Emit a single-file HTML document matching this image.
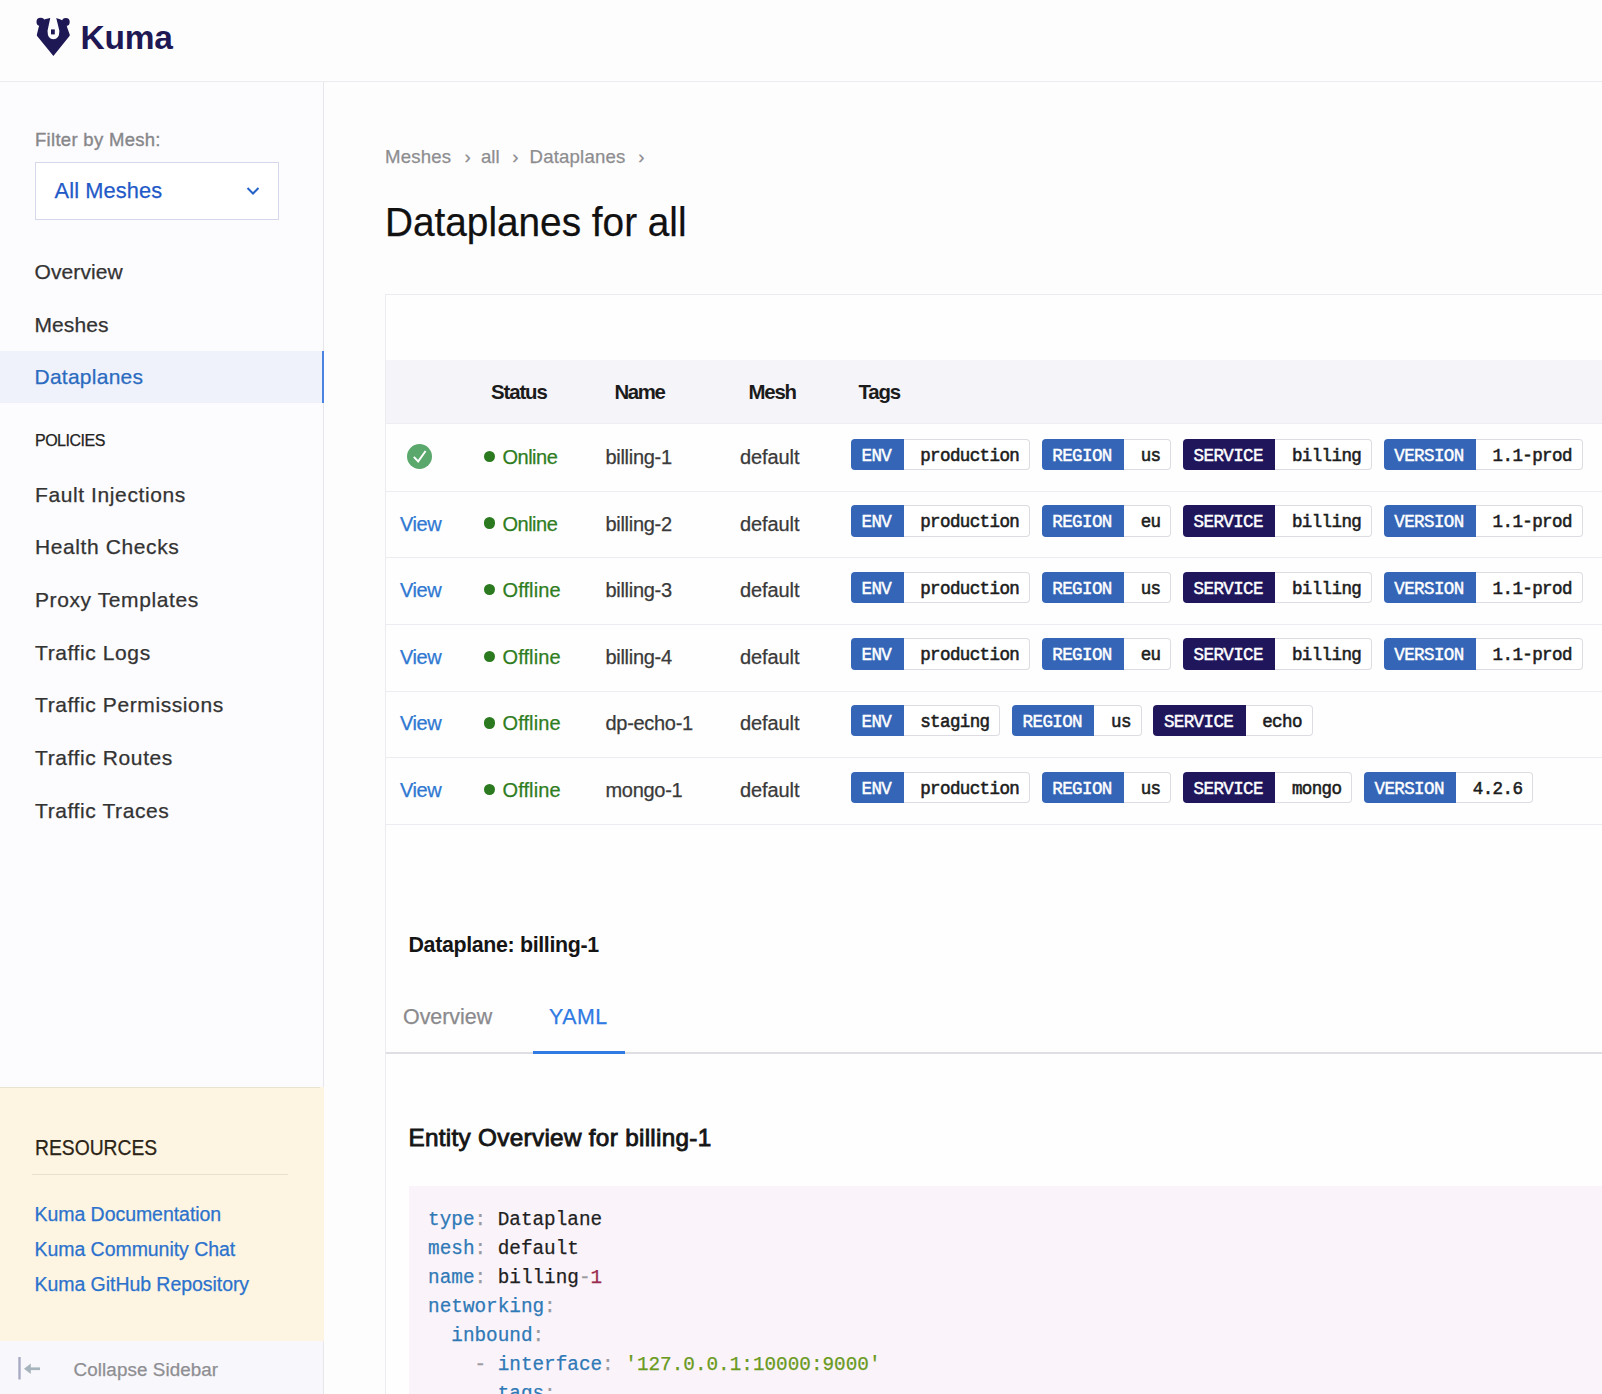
<!DOCTYPE html>
<html><head><meta charset="utf-8"><title>Kuma - Dataplanes</title>
<style>
html,body{margin:0;padding:0;}
body{width:1602px;height:1394px;overflow:hidden;position:relative;background:#fefdfe;font-family:"Liberation Sans", sans-serif;}
.r{position:absolute;}
.t{position:absolute;white-space:nowrap;}
.S{font-family:"Liberation Sans", sans-serif;}
.M{font-family:"Liberation Mono", monospace;}
.tag{position:absolute;height:31.4px;display:flex;font-family:"Liberation Mono", monospace;font-size:17.5px;letter-spacing:-0.6px;line-height:35.4px;}
.tag .k{display:block;height:31.4px;color:#fff;font-weight:400;-webkit-text-stroke:0.45px #fff;border-radius:4px 0 0 4px;box-sizing:border-box;padding-left:10.5px;}
.tag .v{display:block;height:31.4px;background:#fff;color:#1c1c1c;font-weight:400;-webkit-text-stroke:0.55px #1c1c1c;border:1px solid #dcdce2;border-left:none;border-radius:0 4px 4px 0;box-sizing:border-box;padding-left:16.5px;line-height:33.4px;}
</style></head>
<body>
<div class="r" style="left:0px;top:0px;width:1602px;height:82px;background:#fefdfe;"></div>
<div class="r" style="left:0px;top:81px;width:1602px;height:1px;background:#ecebf0;"></div>
<div class="r" style="left:0px;top:82px;width:323px;height:1312px;background:#fcfbfd;"></div>
<div class="r" style="left:323px;top:82px;width:1px;height:1005px;background:#e7e6ec;"></div>
<div class="r" style="left:323px;top:1341px;width:1px;height:53px;background:#e7e6ec;"></div>
<svg class="r" style="left:36px;top:17px" width="35" height="41" viewBox="0 0 35 41">
<circle cx="4.6" cy="4.9" r="4.1" fill="#1e1854"/>
<circle cx="29.8" cy="4.9" r="3.9" fill="#1e1854"/>
<path d="M2.6 10.5 L0.9 17.4 L0.9 18.8 L17.4 39.1 L33.7 18.8 L33.7 17.6 L31.2 10.5 L29.7 5 L24 2.3 L20 1 L14 1 L8.8 2.3 L4.6 5 Z" fill="#1e1854"/>
<path d="M14.4 -1 L19.9 -1 L20.3 1.2 L23.3 13.4 Q23.7 22.2 17.4 22.2 Q11.2 22.2 11.6 13.4 L14.2 1.2 Z" fill="#fefdfe"/>
<rect x="15" y="12.4" width="3.8" height="5" fill="#1e1854"/>
</svg>
<div class="t S" style="left:80.5px;top:20.64px;font-size:33.5px;line-height:33.5px;color:#1e1854;font-weight:700;letter-spacing:-0.2px;">Kuma</div>
<div class="t S" style="left:35.0px;top:130.54px;font-size:18.5px;line-height:18.5px;color:#87878a;letter-spacing:0.3px;-webkit-text-stroke:0.35px #87878a;">Filter by Mesh:</div>
<div class="r" style="left:35px;top:162px;width:244px;height:58px;background:#fff;border:1px solid #d5d8ea;box-sizing:border-box;"></div>
<div class="t S" style="left:54.6px;top:180.15px;font-size:21.8px;line-height:21.8px;color:#1f5ac8;-webkit-text-stroke-width:0.25px;letter-spacing:0.1px;">All Meshes</div>
<svg class="r" style="left:246px;top:186px" width="14" height="10" viewBox="0 0 14 10"><path d="M1.5 2 L7 7.5 L12.5 2" fill="none" stroke="#2563c8" stroke-width="2"/></svg>
<div class="t S" style="left:34.5px;top:260.82px;font-size:21px;line-height:21px;color:#333333;-webkit-text-stroke-width:0.25px;letter-spacing:0.1px;">Overview</div>
<div class="t S" style="left:34.5px;top:313.62px;font-size:21px;line-height:21px;color:#333333;-webkit-text-stroke-width:0.25px;letter-spacing:0.1px;">Meshes</div>
<div class="r" style="left:0px;top:351px;width:323px;height:52px;background:#eff2fb;"></div>
<div class="r" style="left:322.3px;top:351px;width:1.7px;height:52px;background:#4a84e0;"></div>
<div class="t S" style="left:34.5px;top:366.02px;font-size:21px;line-height:21px;color:#2a6bc0;-webkit-text-stroke-width:0.25px;letter-spacing:0.25px;">Dataplanes</div>
<div class="t S" style="left:35.0px;top:433.36px;font-size:16px;line-height:16px;color:#222222;-webkit-text-stroke-width:0.25px;letter-spacing:-0.5px;">POLICIES</div>
<div class="t S" style="left:35.0px;top:483.72px;font-size:21px;line-height:21px;color:#333333;-webkit-text-stroke-width:0.25px;letter-spacing:0.6px;">Fault Injections</div>
<div class="t S" style="left:35.0px;top:536.39px;font-size:21px;line-height:21px;color:#333333;-webkit-text-stroke-width:0.25px;letter-spacing:0.6px;">Health Checks</div>
<div class="t S" style="left:35.0px;top:589.06px;font-size:21px;line-height:21px;color:#333333;-webkit-text-stroke-width:0.25px;letter-spacing:0.6px;">Proxy Templates</div>
<div class="t S" style="left:35.0px;top:641.73px;font-size:21px;line-height:21px;color:#333333;-webkit-text-stroke-width:0.25px;letter-spacing:0.6px;">Traffic Logs</div>
<div class="t S" style="left:35.0px;top:694.40px;font-size:21px;line-height:21px;color:#333333;-webkit-text-stroke-width:0.25px;letter-spacing:0.6px;">Traffic Permissions</div>
<div class="t S" style="left:35.0px;top:747.07px;font-size:21px;line-height:21px;color:#333333;-webkit-text-stroke-width:0.25px;letter-spacing:0.6px;">Traffic Routes</div>
<div class="t S" style="left:35.0px;top:799.74px;font-size:21px;line-height:21px;color:#333333;-webkit-text-stroke-width:0.25px;letter-spacing:0.6px;">Traffic Traces</div>
<div class="r" style="left:0px;top:1087px;width:324px;height:254px;background:#fdf5e2;"></div>
<div class="r" style="left:0px;top:1087px;width:320px;height:1px;background:#e9e3d2;"></div>
<div class="t S" style="left:34.5px;top:1138.10px;font-size:21.5px;line-height:21.5px;color:#2b2416;-webkit-text-stroke-width:0.25px;transform:scaleX(0.897);transform-origin:0 0;">RESOURCES</div>
<div class="r" style="left:32px;top:1174px;width:256px;height:1px;background:#e8dfcc;"></div>
<div class="t S" style="left:34.5px;top:1204.99px;font-size:19.5px;line-height:19.5px;color:#2c72cd;-webkit-text-stroke-width:0.25px;letter-spacing:-0.05px;">Kuma Documentation</div>
<div class="t S" style="left:34.5px;top:1239.79px;font-size:19.5px;line-height:19.5px;color:#2c72cd;-webkit-text-stroke-width:0.25px;letter-spacing:-0.05px;">Kuma Community Chat</div>
<div class="t S" style="left:34.5px;top:1274.59px;font-size:19.5px;line-height:19.5px;color:#2c72cd;-webkit-text-stroke-width:0.25px;letter-spacing:-0.05px;">Kuma GitHub Repository</div>
<div class="r" style="left:0px;top:1341px;width:323px;height:53px;background:#f8f7fb;"></div>
<svg class="r" style="left:17px;top:1356px" width="26" height="25" viewBox="0 0 26 25"><rect x="1.3" y="1" width="2.4" height="22.5" fill="#a8abc4"/><rect x="12" y="11.4" width="11" height="2.7" fill="#a6b4bd"/><path d="M7 12.75 L13.8 7.6 L13.8 17.9 Z" fill="#a6b4bd"/></svg>
<div class="t S" style="left:73.6px;top:1361.09px;font-size:18.8px;line-height:18.8px;color:#8e8e92;-webkit-text-stroke-width:0.25px;letter-spacing:0.1px;">Collapse Sidebar</div>
<div class="t S" style="left:385.0px;top:147.86px;font-size:18.6px;line-height:18.6px;color:#8d8d90;-webkit-text-stroke-width:0.25px;letter-spacing:0.2px;">Meshes</div>
<div class="t S" style="left:464.5px;top:147.86px;font-size:18.6px;line-height:18.6px;color:#8d8d90;-webkit-text-stroke-width:0.25px;">›</div>
<div class="t S" style="left:481.0px;top:147.86px;font-size:18.6px;line-height:18.6px;color:#8d8d90;-webkit-text-stroke-width:0.25px;">all</div>
<div class="t S" style="left:512.3px;top:147.86px;font-size:18.6px;line-height:18.6px;color:#8d8d90;-webkit-text-stroke-width:0.25px;">›</div>
<div class="t S" style="left:529.5px;top:147.86px;font-size:18.6px;line-height:18.6px;color:#8d8d90;-webkit-text-stroke-width:0.25px;letter-spacing:0.2px;">Dataplanes</div>
<div class="t S" style="left:638.2px;top:147.86px;font-size:18.6px;line-height:18.6px;color:#8d8d90;-webkit-text-stroke-width:0.25px;">›</div>
<div class="t S" style="left:385.0px;top:202.43px;font-size:40.6px;line-height:40.6px;color:#111111;-webkit-text-stroke-width:0.25px;transform:scaleX(0.955);transform-origin:0 0;">Dataplanes for all</div>
<div class="r" style="left:385px;top:294px;width:1217px;height:1100px;background:#fefefe;border-left:1px solid #ececf0;border-top:1px solid #ececf0;"></div>
<div class="r" style="left:386px;top:360px;width:1216px;height:64px;background:#f5f4f9;"></div>
<div class="r" style="left:386px;top:423px;width:1216px;height:1px;background:#efedf3;"></div>
<div class="t S" style="left:491.0px;top:381.53px;font-size:20.4px;line-height:20.4px;color:#1b1b1b;font-weight:700;letter-spacing:-1.1px;">Status</div>
<div class="t S" style="left:614.5px;top:381.53px;font-size:20.4px;line-height:20.4px;color:#1b1b1b;font-weight:700;letter-spacing:-1.4px;">Name</div>
<div class="t S" style="left:748.5px;top:381.53px;font-size:20.4px;line-height:20.4px;color:#1b1b1b;font-weight:700;letter-spacing:-1.2px;">Mesh</div>
<div class="t S" style="left:858.5px;top:381.53px;font-size:20.4px;line-height:20.4px;color:#1b1b1b;font-weight:700;letter-spacing:-1.2px;">Tags</div>
<div class="r" style="left:386px;top:490.8px;width:1216px;height:1px;background:#ededf1;"></div>
<svg class="r" style="left:407px;top:444.0px" width="25" height="25" viewBox="0 0 25 25"><circle cx="12.5" cy="12.5" r="12.5" fill="#5aa86b"/><path d="M6.8 12.8 L11.2 17.4 L18.6 7" fill="none" stroke="#fff" stroke-width="1.9"/></svg>
<div class="r" style="left:483.5px;top:450.8px;width:11.4px;height:11.4px;background:#2b7a1f;border-radius:50%;"></div>
<div class="t S" style="left:502.5px;top:447.07px;font-size:20px;line-height:20px;color:#2f7d21;-webkit-text-stroke-width:0.25px;letter-spacing:-0.5px;">Online</div>
<div class="t S" style="left:605.5px;top:447.07px;font-size:20px;line-height:20px;color:#3a3a3a;-webkit-text-stroke-width:0.25px;letter-spacing:-0.3px;">billing-1</div>
<div class="t S" style="left:740.0px;top:447.07px;font-size:20px;line-height:20px;color:#3a3a3a;-webkit-text-stroke-width:0.25px;letter-spacing:-0.1px;">default</div>
<div class="tag" style="left:851.0px;top:438.6px;"><span class="k" style="background:#3465b6;width:52.7px">ENV</span><span class="v" style="width:126.3px">production</span></div>
<div class="tag" style="left:1041.8px;top:438.6px;"><span class="k" style="background:#3465b6;width:82.4px">REGION</span><span class="v" style="width:47.1px">us</span></div>
<div class="tag" style="left:1183.1px;top:438.6px;"><span class="k" style="background:#20165c;width:92.3px">SERVICE</span><span class="v" style="width:96.6px">billing</span></div>
<div class="tag" style="left:1383.8px;top:438.6px;"><span class="k" style="background:#3465b6;width:92.3px">VERSION</span><span class="v" style="width:106.5px">1.1-prod</span></div>
<div class="r" style="left:386px;top:557.4px;width:1216px;height:1px;background:#ededf1;"></div>
<div class="t S" style="left:400.0px;top:513.67px;font-size:20px;line-height:20px;color:#2f78d2;-webkit-text-stroke-width:0.25px;letter-spacing:-0.4px;">View</div>
<div class="r" style="left:483.5px;top:517.4px;width:11.4px;height:11.4px;background:#2b7a1f;border-radius:50%;"></div>
<div class="t S" style="left:502.5px;top:513.67px;font-size:20px;line-height:20px;color:#2f7d21;-webkit-text-stroke-width:0.25px;letter-spacing:-0.5px;">Online</div>
<div class="t S" style="left:605.5px;top:513.67px;font-size:20px;line-height:20px;color:#3a3a3a;-webkit-text-stroke-width:0.25px;letter-spacing:-0.3px;">billing-2</div>
<div class="t S" style="left:740.0px;top:513.67px;font-size:20px;line-height:20px;color:#3a3a3a;-webkit-text-stroke-width:0.25px;letter-spacing:-0.1px;">default</div>
<div class="tag" style="left:851.0px;top:505.2px;"><span class="k" style="background:#3465b6;width:52.7px">ENV</span><span class="v" style="width:126.3px">production</span></div>
<div class="tag" style="left:1041.8px;top:505.2px;"><span class="k" style="background:#3465b6;width:82.4px">REGION</span><span class="v" style="width:47.1px">eu</span></div>
<div class="tag" style="left:1183.1px;top:505.2px;"><span class="k" style="background:#20165c;width:92.3px">SERVICE</span><span class="v" style="width:96.6px">billing</span></div>
<div class="tag" style="left:1383.8px;top:505.2px;"><span class="k" style="background:#3465b6;width:92.3px">VERSION</span><span class="v" style="width:106.5px">1.1-prod</span></div>
<div class="r" style="left:386px;top:624.0px;width:1216px;height:1px;background:#ededf1;"></div>
<div class="t S" style="left:400.0px;top:580.27px;font-size:20px;line-height:20px;color:#2f78d2;-webkit-text-stroke-width:0.25px;letter-spacing:-0.4px;">View</div>
<div class="r" style="left:483.5px;top:584.0px;width:11.4px;height:11.4px;background:#2b7a1f;border-radius:50%;"></div>
<div class="t S" style="left:502.5px;top:580.27px;font-size:20px;line-height:20px;color:#2f7d21;-webkit-text-stroke-width:0.25px;letter-spacing:0.1px;">Offline</div>
<div class="t S" style="left:605.5px;top:580.27px;font-size:20px;line-height:20px;color:#3a3a3a;-webkit-text-stroke-width:0.25px;letter-spacing:-0.3px;">billing-3</div>
<div class="t S" style="left:740.0px;top:580.27px;font-size:20px;line-height:20px;color:#3a3a3a;-webkit-text-stroke-width:0.25px;letter-spacing:-0.1px;">default</div>
<div class="tag" style="left:851.0px;top:571.8px;"><span class="k" style="background:#3465b6;width:52.7px">ENV</span><span class="v" style="width:126.3px">production</span></div>
<div class="tag" style="left:1041.8px;top:571.8px;"><span class="k" style="background:#3465b6;width:82.4px">REGION</span><span class="v" style="width:47.1px">us</span></div>
<div class="tag" style="left:1183.1px;top:571.8px;"><span class="k" style="background:#20165c;width:92.3px">SERVICE</span><span class="v" style="width:96.6px">billing</span></div>
<div class="tag" style="left:1383.8px;top:571.8px;"><span class="k" style="background:#3465b6;width:92.3px">VERSION</span><span class="v" style="width:106.5px">1.1-prod</span></div>
<div class="r" style="left:386px;top:690.6px;width:1216px;height:1px;background:#ededf1;"></div>
<div class="t S" style="left:400.0px;top:646.87px;font-size:20px;line-height:20px;color:#2f78d2;-webkit-text-stroke-width:0.25px;letter-spacing:-0.4px;">View</div>
<div class="r" style="left:483.5px;top:650.6px;width:11.4px;height:11.4px;background:#2b7a1f;border-radius:50%;"></div>
<div class="t S" style="left:502.5px;top:646.87px;font-size:20px;line-height:20px;color:#2f7d21;-webkit-text-stroke-width:0.25px;letter-spacing:0.1px;">Offline</div>
<div class="t S" style="left:605.5px;top:646.87px;font-size:20px;line-height:20px;color:#3a3a3a;-webkit-text-stroke-width:0.25px;letter-spacing:-0.3px;">billing-4</div>
<div class="t S" style="left:740.0px;top:646.87px;font-size:20px;line-height:20px;color:#3a3a3a;-webkit-text-stroke-width:0.25px;letter-spacing:-0.1px;">default</div>
<div class="tag" style="left:851.0px;top:638.4px;"><span class="k" style="background:#3465b6;width:52.7px">ENV</span><span class="v" style="width:126.3px">production</span></div>
<div class="tag" style="left:1041.8px;top:638.4px;"><span class="k" style="background:#3465b6;width:82.4px">REGION</span><span class="v" style="width:47.1px">eu</span></div>
<div class="tag" style="left:1183.1px;top:638.4px;"><span class="k" style="background:#20165c;width:92.3px">SERVICE</span><span class="v" style="width:96.6px">billing</span></div>
<div class="tag" style="left:1383.8px;top:638.4px;"><span class="k" style="background:#3465b6;width:92.3px">VERSION</span><span class="v" style="width:106.5px">1.1-prod</span></div>
<div class="r" style="left:386px;top:757.2px;width:1216px;height:1px;background:#ededf1;"></div>
<div class="t S" style="left:400.0px;top:713.47px;font-size:20px;line-height:20px;color:#2f78d2;-webkit-text-stroke-width:0.25px;letter-spacing:-0.4px;">View</div>
<div class="r" style="left:483.5px;top:717.2px;width:11.4px;height:11.4px;background:#2b7a1f;border-radius:50%;"></div>
<div class="t S" style="left:502.5px;top:713.47px;font-size:20px;line-height:20px;color:#2f7d21;-webkit-text-stroke-width:0.25px;letter-spacing:0.1px;">Offline</div>
<div class="t S" style="left:605.5px;top:713.47px;font-size:20px;line-height:20px;color:#3a3a3a;-webkit-text-stroke-width:0.25px;letter-spacing:-0.3px;">dp-echo-1</div>
<div class="t S" style="left:740.0px;top:713.47px;font-size:20px;line-height:20px;color:#3a3a3a;-webkit-text-stroke-width:0.25px;letter-spacing:-0.1px;">default</div>
<div class="tag" style="left:851.0px;top:705.0px;"><span class="k" style="background:#3465b6;width:52.7px">ENV</span><span class="v" style="width:96.6px">staging</span></div>
<div class="tag" style="left:1012.1px;top:705.0px;"><span class="k" style="background:#3465b6;width:82.4px">REGION</span><span class="v" style="width:47.1px">us</span></div>
<div class="tag" style="left:1153.4px;top:705.0px;"><span class="k" style="background:#20165c;width:92.3px">SERVICE</span><span class="v" style="width:66.9px">echo</span></div>
<div class="r" style="left:386px;top:823.8px;width:1216px;height:1px;background:#ededf1;"></div>
<div class="t S" style="left:400.0px;top:780.07px;font-size:20px;line-height:20px;color:#2f78d2;-webkit-text-stroke-width:0.25px;letter-spacing:-0.4px;">View</div>
<div class="r" style="left:483.5px;top:783.8px;width:11.4px;height:11.4px;background:#2b7a1f;border-radius:50%;"></div>
<div class="t S" style="left:502.5px;top:780.07px;font-size:20px;line-height:20px;color:#2f7d21;-webkit-text-stroke-width:0.25px;letter-spacing:0.1px;">Offline</div>
<div class="t S" style="left:605.5px;top:780.07px;font-size:20px;line-height:20px;color:#3a3a3a;-webkit-text-stroke-width:0.25px;letter-spacing:-0.3px;">mongo-1</div>
<div class="t S" style="left:740.0px;top:780.07px;font-size:20px;line-height:20px;color:#3a3a3a;-webkit-text-stroke-width:0.25px;letter-spacing:-0.1px;">default</div>
<div class="tag" style="left:851.0px;top:771.6px;"><span class="k" style="background:#3465b6;width:52.7px">ENV</span><span class="v" style="width:126.3px">production</span></div>
<div class="tag" style="left:1041.8px;top:771.6px;"><span class="k" style="background:#3465b6;width:82.4px">REGION</span><span class="v" style="width:47.1px">us</span></div>
<div class="tag" style="left:1183.1px;top:771.6px;"><span class="k" style="background:#20165c;width:92.3px">SERVICE</span><span class="v" style="width:76.8px">mongo</span></div>
<div class="tag" style="left:1364.0px;top:771.6px;"><span class="k" style="background:#3465b6;width:92.3px">VERSION</span><span class="v" style="width:76.8px">4.2.6</span></div>
<div class="t S" style="left:408.5px;top:935.28px;font-size:21.4px;line-height:21.4px;color:#151515;font-weight:700;letter-spacing:-0.35px;">Dataplane: billing-1</div>
<div class="t S" style="left:403.0px;top:1006.68px;font-size:21.4px;line-height:21.4px;color:#8a8a8d;-webkit-text-stroke-width:0.25px;">Overview</div>
<div class="t S" style="left:549.0px;top:1006.68px;font-size:21.4px;line-height:21.4px;color:#2f7ae3;-webkit-text-stroke-width:0.25px;letter-spacing:0.5px;">YAML</div>
<div class="r" style="left:386px;top:1052px;width:1216px;height:2px;background:#dfdfe3;"></div>
<div class="r" style="left:532.5px;top:1051px;width:92px;height:3px;background:#2f7ae3;"></div>
<div class="t S" style="left:408.5px;top:1125.53px;font-size:24.3px;line-height:24.3px;color:#151515;letter-spacing:0.3px;-webkit-text-stroke:0.85px #151515;">Entity Overview for billing-1</div>
<div class="r" style="left:409px;top:1185.5px;width:1193px;height:209px;background:#faf4fa;"></div>
<div class="t M" style="left:428.1px;top:1210.89px;font-size:19.33px;line-height:19.33px;color:#1f1f1f;white-space:pre;-webkit-text-stroke:0.25px;"><span style="color:#2f79b6">type</span><span style="color:#9a9aa0">:</span> <span style="color:#1f1f1f">Dataplane</span></div>
<div class="t M" style="left:428.1px;top:1239.97px;font-size:19.33px;line-height:19.33px;color:#1f1f1f;white-space:pre;-webkit-text-stroke:0.25px;"><span style="color:#2f79b6">mesh</span><span style="color:#9a9aa0">:</span> <span style="color:#1f1f1f">default</span></div>
<div class="t M" style="left:428.1px;top:1269.05px;font-size:19.33px;line-height:19.33px;color:#1f1f1f;white-space:pre;-webkit-text-stroke:0.25px;"><span style="color:#2f79b6">name</span><span style="color:#9a9aa0">:</span> <span style="color:#1f1f1f">billing</span><span style="color:#9a9aa0">-</span><span style="color:#9b2c50">1</span></div>
<div class="t M" style="left:428.1px;top:1298.13px;font-size:19.33px;line-height:19.33px;color:#1f1f1f;white-space:pre;-webkit-text-stroke:0.25px;"><span style="color:#2f79b6">networking</span><span style="color:#9a9aa0">:</span></div>
<div class="t M" style="left:428.1px;top:1327.21px;font-size:19.33px;line-height:19.33px;color:#1f1f1f;white-space:pre;-webkit-text-stroke:0.25px;">  <span style="color:#2f79b6">inbound</span><span style="color:#9a9aa0">:</span></div>
<div class="t M" style="left:428.1px;top:1356.29px;font-size:19.33px;line-height:19.33px;color:#1f1f1f;white-space:pre;-webkit-text-stroke:0.25px;">    <span style="color:#9a9aa0">-</span> <span style="color:#2f79b6">interface</span><span style="color:#9a9aa0">:</span> <span style="color:#6a9a1e">'127.0.0.1:10000:9000'</span></div>
<div class="t M" style="left:428.1px;top:1385.37px;font-size:19.33px;line-height:19.33px;color:#1f1f1f;white-space:pre;-webkit-text-stroke:0.25px;">      <span style="color:#2f79b6">tags</span><span style="color:#9a9aa0">:</span></div>
</body></html>
